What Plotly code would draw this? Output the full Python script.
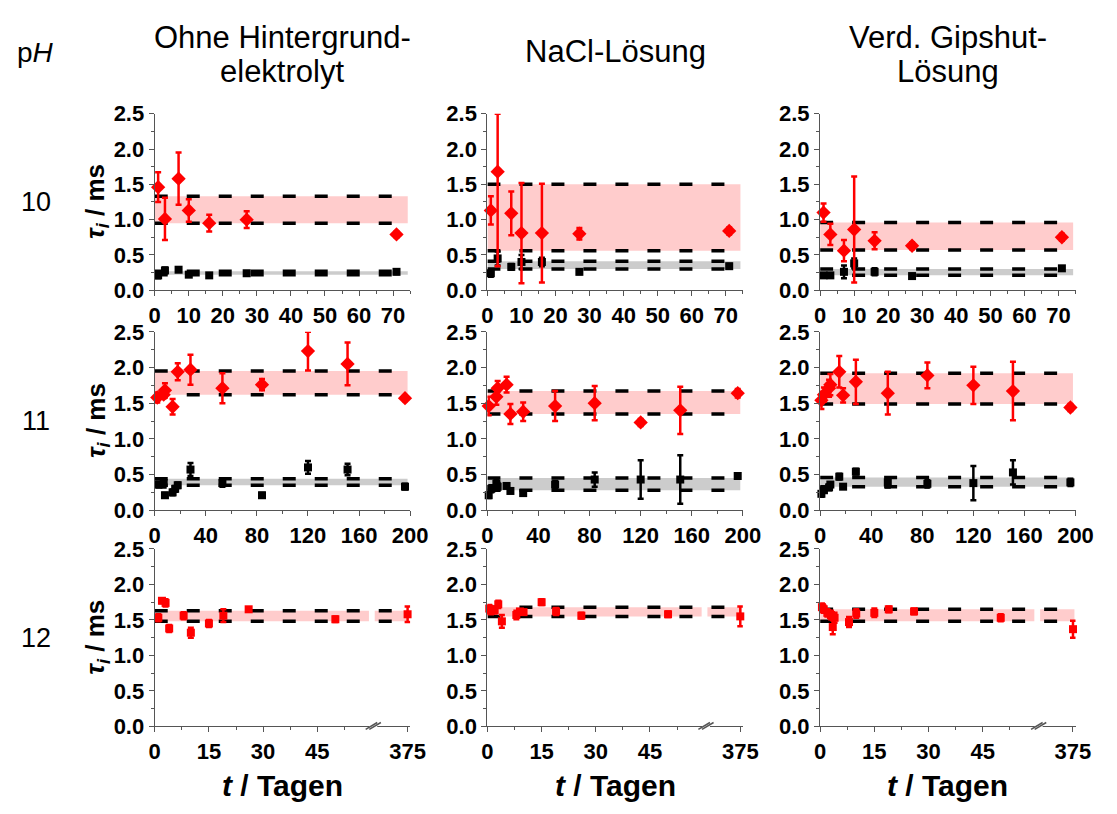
import plotly.graph_objects as go

W, H = 1117, 814

# ---------------- data ----------------
columns = ["Ohne Hintergrund-|elektrolyt", "NaCl-Lösung", "Verd. Gipshut-|Lösung"]
ph_labels = ["10", "11", "12"]

# pH 10, ohne Hintergrundelektrolyt
A10_red_t = [1, 3, 7, 10, 16, 27, 71]
A10_red_y = [1.46, 1.01, 1.58, 1.13, 0.95, 1.00, 0.79]
A10_red_e = [0.21, 0.30, 0.37, 0.16, 0.12, 0.12, 0.04]
A10_blk_t = [1, 3, 7, 10, 16, 27, 71]
A10_blk_y = [0.21, 0.28, 0.29, 0.22, 0.21, 0.24, 0.26]
A10_blk_e = [0.04, 0.04, 0.03, 0.03, 0.03, 0.03, 0.03]
A10_band_red = [0.95, 1.33]
A10_band_gray = [0.22, 0.27]

# pH 10, NaCl
B10_red_t = [1, 3, 7, 10, 16, 27, 71]
B10_red_y = [1.13, 1.68, 1.09, 0.81, 0.81, 0.80, 0.84]
B10_red_e = [0.20, 1.34, 0.31, 0.71, 0.70, 0.08, 0.05]
B10_blk_t = [1, 3, 7, 10, 16, 27, 71]
B10_blk_y = [0.24, 0.45, 0.33, 0.40, 0.40, 0.26, 0.34]
B10_blk_e = [0.05, 0.10, 0.04, 0.10, 0.06, 0.03, 0.03]
B10_band_red = [0.56, 1.50]
B10_band_gray = [0.30, 0.41]

# pH 10, Gipshut
C10_red_t = [1, 3, 7, 10, 16, 27, 71]
C10_red_y = [1.10, 0.79, 0.56, 0.86, 0.70, 0.63, 0.75]
C10_red_e = [0.13, 0.15, 0.15, 0.75, 0.12, 0.05, 0.05]
C10_blk_t = [1, 3, 7, 10, 16, 27, 71]
C10_blk_y = [0.21, 0.21, 0.26, 0.38, 0.26, 0.20, 0.31]
C10_blk_e = [0.03, 0.03, 0.09, 0.07, 0.05, 0.03, 0.03]
C10_band_red = [0.57, 0.96]
C10_band_gray = [0.21, 0.30]

# pH 11, ohne Hintergrundelektrolyt
A11_red_t = [2, 7, 8, 14, 18, 28, 53, 84, 120, 151, 196]
A11_red_y = [1.58, 1.62, 1.68, 1.45, 1.94, 1.97, 1.71, 1.76, 2.23, 2.05, 1.57]
A11_red_e = [0.07, 0.05, 0.10, 0.11, 0.12, 0.21, 0.21, 0.08, 0.27, 0.30, 0.04]
A11_blk_t = [3, 7, 8, 14, 16, 18, 28, 53, 84, 120, 151, 196]
A11_blk_y = [0.36, 0.38, 0.21, 0.25, 0.30, 0.35, 0.57, 0.38, 0.21, 0.60, 0.57, 0.33]
A11_blk_e = [0.04, 0.06, 0.03, 0.04, 0.04, 0.04, 0.09, 0.05, 0.03, 0.09, 0.08, 0.04]
A11_band_red = [1.62, 1.95]
A11_band_gray = [0.35, 0.44]

# pH 11, NaCl
B11_red_t = [1, 7, 8, 15, 18, 28, 53, 84, 120, 151, 196]
B11_red_y = [1.46, 1.59, 1.71, 1.76, 1.35, 1.38, 1.46, 1.50, 1.23, 1.40, 1.64]
B11_red_e = [0.13, 0.11, 0.10, 0.11, 0.14, 0.13, 0.21, 0.24, 0.05, 0.33, 0.06]
B11_blk_t = [1, 3, 7, 8, 15, 18, 28, 53, 84, 120, 151, 196]
B11_blk_y = [0.21, 0.30, 0.37, 0.33, 0.34, 0.27, 0.24, 0.36, 0.43, 0.43, 0.43, 0.48]
B11_blk_e = [0.04, 0.05, 0.07, 0.05, 0.03, 0.03, 0.03, 0.05, 0.10, 0.27, 0.34, 0.03]
B11_band_red = [1.35, 1.67]
B11_band_gray = [0.28, 0.45]

# pH 11, Gipshut
C11_red_t = [1, 3, 7, 8, 15, 18, 28, 53, 84, 120, 151, 196]
C11_red_y = [1.54, 1.62, 1.71, 1.76, 1.94, 1.61, 1.80, 1.64, 1.89, 1.75, 1.67, 1.44]
C11_red_e = [0.12, 0.10, 0.12, 0.15, 0.22, 0.10, 0.31, 0.30, 0.18, 0.26, 0.41, 0.05]
C11_blk_t = [1, 3, 7, 8, 15, 18, 28, 53, 84, 120, 151, 196]
C11_blk_y = [0.23, 0.28, 0.32, 0.36, 0.47, 0.33, 0.54, 0.39, 0.37, 0.38, 0.53, 0.39]
C11_blk_e = [0.04, 0.03, 0.04, 0.03, 0.04, 0.03, 0.04, 0.07, 0.05, 0.24, 0.17, 0.05]
C11_band_red = [1.49, 1.92]
C11_band_gray = [0.33, 0.46]

# pH 12, ohne Hintergrundelektrolyt
A12_red_t = [1, 2, 3, 4, 8, 10, 15, 19, 26, 50, 375]
A12_red_y = [1.53, 1.77, 1.74, 1.38, 1.56, 1.32, 1.45, 1.56, 1.65, 1.51, 1.58]
A12_red_e = [0.05, 0.03, 0.05, 0.05, 0.05, 0.07, 0.05, 0.09, 0.03, 0.04, 0.11]
A12_band_red = [1.48, 1.63]

# pH 12, NaCl
B12_red_t = [0.5, 1, 2, 3, 4, 8, 9, 10, 15, 19, 26, 50, 375]
B12_red_y = [1.66, 1.63, 1.64, 1.72, 1.48, 1.57, 1.62, 1.61, 1.75, 1.62, 1.56, 1.58, 1.55]
B12_red_e = [0.05, 0.05, 0.05, 0.05, 0.09, 0.06, 0.03, 0.03, 0.04, 0.05, 0.04, 0.04, 0.14]
B12_band_red = [1.55, 1.68]

# pH 12, Gipshut
C12_red_t = [0.5, 1, 2, 3, 3.5, 4, 8, 10, 15, 19, 26, 50, 375]
C12_red_y = [1.68, 1.65, 1.60, 1.57, 1.40, 1.53, 1.47, 1.59, 1.60, 1.65, 1.62, 1.53, 1.37]
C12_red_e = [0.05, 0.05, 0.05, 0.06, 0.10, 0.07, 0.07, 0.06, 0.06, 0.04, 0.04, 0.05, 0.12]
C12_band_red = [1.48, 1.65]

y_ticks = [0.0, 0.5, 1.0, 1.5, 2.0, 2.5]
row3_ticks = [0, 15, 30, 45, 375]

# ---------------- layout helpers ----------------
col_px = [(152, 413), (492, 753), (832, 1093)]
row_px = [(105, 287), (330, 514), (554, 737)]
YMAX = 2.5
BREAK_AT = 60.0


def brk(t):
    """broken axis for pH 12 row: 0..60 linear, 375 compressed to the end"""
    return t if t <= BREAK_AT else BREAK_AT + (t - BREAK_AT) * 10.0 / 315.0


def xd(c):
    return [col_px[c][0] / W, col_px[c][1] / W]


def yd(r):
    return [1 - row_px[r][1] / H, 1 - row_px[r][0] / H]


panels = [
    [(A10_red_t, A10_red_y, A10_red_e, A10_blk_t, A10_blk_y, A10_blk_e, A10_band_red, A10_band_gray),
     (B10_red_t, B10_red_y, B10_red_e, B10_blk_t, B10_blk_y, B10_blk_e, B10_band_red, B10_band_gray),
     (C10_red_t, C10_red_y, C10_red_e, C10_blk_t, C10_blk_y, C10_blk_e, C10_band_red, C10_band_gray)],
    [(A11_red_t, A11_red_y, A11_red_e, A11_blk_t, A11_blk_y, A11_blk_e, A11_band_red, A11_band_gray),
     (B11_red_t, B11_red_y, B11_red_e, B11_blk_t, B11_blk_y, B11_blk_e, B11_band_red, B11_band_gray),
     (C11_red_t, C11_red_y, C11_red_e, C11_blk_t, C11_blk_y, C11_blk_e, C11_band_red, C11_band_gray)],
    [(A12_red_t, A12_red_y, A12_red_e, None, None, None, A12_band_red, None),
     (B12_red_t, B12_red_y, B12_red_e, None, None, None, B12_band_red, None),
     (C12_red_t, C12_red_y, C12_red_e, None, None, None, C12_band_red, None)],
]

RED = "#ff0000"
BAND_RED = "#ffcccc"
BAND_GRAY = "#cccccc"
AXC = "#555555"
FONT = "Liberation Sans, Arial, sans-serif"
TICKSIZE = 22

fig = go.Figure()
layout = dict(
    width=W, height=H, margin=dict(l=0, r=0, t=0, b=0),
    paper_bgcolor="white", plot_bgcolor="white", showlegend=False,
    font=dict(family=FONT, color="black"),
)
shapes = []
annotations = []

xranges = [75.0, 200.0, 70.7]
band_end = [74.3, 198.0, None]

for r in range(3):
    for c in range(3):
        k = r * 3 + c + 1
        xa, ya = f"x{k}", f"y{k}"
        rt, ry, re_, bt, by, be, bred, bgray = panels[r][c]
        xmax = xranges[r]
        if r == 2:
            segs = [(0, 59.3), (60.9, 70.4)]
        else:
            segs = [(0, band_end[r])]
        # bands
        for lo_hi, col in ((bred, BAND_RED), (bgray, BAND_GRAY)):
            if lo_hi is None:
                continue
            for (s0, s1) in segs:
                fig.add_trace(go.Scatter(
                    x=[s0, s1, s1, s0, s0], y=[lo_hi[0], lo_hi[0], lo_hi[1], lo_hi[1], lo_hi[0]],
                    fill="toself", fillcolor=col, mode="none", xaxis=xa, yaxis=ya,
                    hoverinfo="skip"))
        # dashed lines
        for lo_hi in (bred, bgray):
            if lo_hi is None:
                continue
            for v in lo_hi:
                fig.add_trace(go.Scatter(
                    x=[0, xmax], y=[v, v], mode="lines",
                    line=dict(color="black", width=3.5, dash="13px,19px"),
                    xaxis=xa, yaxis=ya, hoverinfo="skip"))

        # points
        def add_pts(ts, ys, es, color, symbol, size):
            xs = [brk(t) for t in ts] if r == 2 else list(ts)
            plus = [min(e, YMAX - y) for y, e in zip(ys, es)]
            minus = [min(e, y) for y, e in zip(ys, es)]
            fig.add_trace(go.Scatter(
                x=xs, y=ys, mode="markers", xaxis=xa, yaxis=ya, cliponaxis=False,
                marker=dict(color=color, symbol=symbol, size=size, line=dict(width=0)),
                error_y=dict(type="data", array=plus, arrayminus=minus, symmetric=False,
                             color=color, thickness=2.5, width=3)))
        if bt is not None:
            add_pts(bt, by, be, "black", "square", 8)
        if r == 2:
            add_pts(rt, ry, re_, RED, "square", 8)
        else:
            add_pts(rt, ry, re_, RED, "diamond", 11)

        xaxis = dict(domain=xd(c), anchor=ya, range=[0, xmax], showgrid=False, zeroline=False,
                     showline=True, linecolor=AXC, linewidth=1.2, ticks="outside", ticklen=5,
                     tickcolor=AXC, tickwidth=1.2,
                     tickfont=dict(family=FONT, size=TICKSIZE, color="black", weight="bold"))
        if r == 0:
            xaxis.update(tickmode="linear", tick0=0, dtick=10,
                         minor=dict(dtick=5, ticks="outside", ticklen=3, tickcolor=AXC))
        elif r == 1:
            xaxis.update(tickmode="linear", tick0=0, dtick=40,
                         minor=dict(dtick=20, ticks="outside", ticklen=3, tickcolor=AXC))
        else:
            xaxis.update(tickmode="array", tickvals=[brk(t) for t in row3_ticks],
                         ticktext=[str(t) for t in row3_ticks],
                         minor=dict(tickmode="array", tickvals=[7.5, 22.5, 37.5, 52.5],
                                    ticks="outside", ticklen=3, tickcolor=AXC))
        yaxis = dict(domain=yd(r), anchor=xa, range=[0, YMAX], showgrid=False, zeroline=False,
                     showline=True, linecolor=AXC, linewidth=1.2, ticks="outside", ticklen=5,
                     tickcolor=AXC, tickwidth=1.2, tickmode="array", tickvals=y_ticks,
                     ticktext=[f"{v:.1f}" for v in y_ticks],
                     minor=dict(tickmode="linear", tick0=0, dtick=0.25, ticks="outside",
                                ticklen=3, tickcolor=AXC),
                     tickfont=dict(family=FONT, size=TICKSIZE, color="black", weight="bold"))
        layout[f"xaxis{k}"] = xaxis
        layout[f"yaxis{k}"] = yaxis

        if r == 2:
            yb = yd(2)[0]
            shapes.append(dict(type="line", xref=xa, yref="paper", x0=59.4, x1=61.6,
                               y0=yb, y1=yb, line=dict(color="white", width=3)))
            for off in (0.0, 1.0):
                shapes.append(dict(type="line", xref=xa, yref="paper",
                                   x0=58.4 + off, x1=61.6 + off,
                                   y0=yb - 3 / H, y1=yb + 4 / H,
                                   line=dict(color=AXC, width=1.5)))


def ann(text, xpx, ypx, size, bold=False, angle=0):
    annotations.append(dict(
        text=f"<b>{text}</b>" if bold else text, x=xpx / W, y=1 - ypx / H,
        xref="paper", yref="paper", showarrow=False, xanchor="center", yanchor="middle",
        textangle=angle, font=dict(family=FONT, size=size, color="black")))


# header
ann("p<i>H</i>", 30, 42, 28)
for c, title in enumerate(columns):
    cx = (col_px[c][0] + col_px[c][1]) / 2
    parts = title.split("|")
    if len(parts) == 2:
        ann(parts[0], cx, 26, 31)
        ann(parts[1], cx, 61, 31)
    else:
        ann(parts[0], cx, 41, 31)
    ann("<i>t</i> / Tagen", cx, 798, 30, bold=True)

for r, ph in enumerate(ph_labels):
    cy = (row_px[r][0] + row_px[r][1]) / 2
    ann(ph, 31, cy, 27)
    ann("<i>τ</i><sub><i>i</i></sub> / ms", 93, cy, 26, bold=True, angle=-90)

layout["shapes"] = shapes
layout["annotations"] = annotations
fig.update_layout(**layout)
fig.write_html("out.html")
